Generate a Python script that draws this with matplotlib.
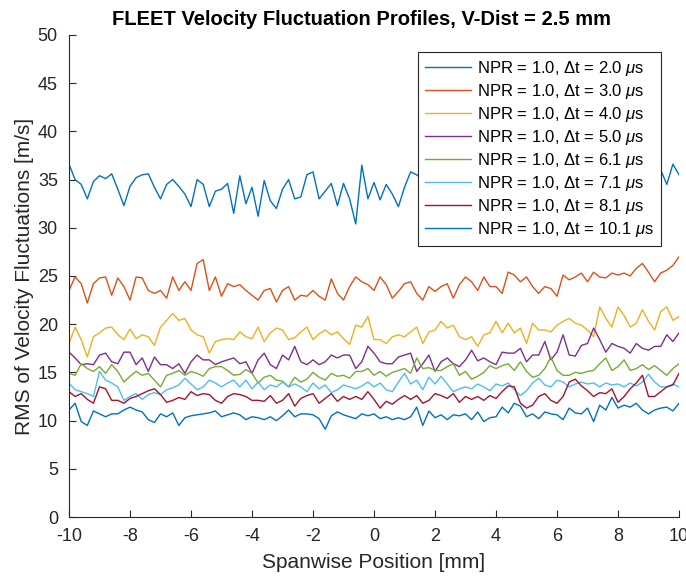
import numpy as np
import matplotlib
matplotlib.use('Agg')
import matplotlib.pyplot as plt

plt.rcParams['font.family'] = ['Liberation Sans', 'DejaVu Sans']
plt.rcParams['mathtext.fontset'] = 'custom'
plt.rcParams['mathtext.rm'] = 'Liberation Sans'
plt.rcParams['mathtext.it'] = 'Liberation Sans:italic'
plt.rcParams['axes.unicode_minus'] = False

# spanwise position [mm]
pos = np.linspace(-10, 10, 101)

dt_labels = ['2.0', '3.0', '4.0', '5.0', '6.1', '7.1', '8.1', '10.1']

rms_2_0 = [36.6, 35.0, 34.5, 33.0, 34.8, 35.4, 35.1, 35.6, 34.0, 32.3,
           34.3, 35.2, 35.5, 35.6, 34.2, 33.0, 34.5, 35.0, 34.3, 33.5,
           32.2, 35.0, 34.5, 32.2, 33.8, 34.0, 34.6, 31.5, 35.4, 32.5,
           34.2, 31.2, 34.9, 32.8, 32.0, 34.0, 35.0, 33.0, 33.2, 35.5,
           35.8, 33.0, 33.8, 34.6, 32.3, 34.6, 33.0, 30.4, 36.5, 33.0,
           34.7, 32.9, 34.5, 33.5, 32.2, 34.2, 35.8, 35.5, 35.0, 34.2,
           35.5, 34.0, 35.2, 36.0, 34.5, 35.3, 33.8, 35.0, 36.2, 34.6,
           35.4, 34.0, 35.8, 34.8, 35.5, 36.3, 34.9, 35.6, 34.3, 35.9,
           35.0, 36.1, 34.7, 35.4, 36.0, 34.8, 35.7, 35.1, 36.4, 34.9,
           35.6, 36.2, 35.0, 35.8, 34.6, 35.9, 35.2, 36.0, 34.5, 36.6, 35.5]

rms_3_0 = [23.5, 24.9, 24.2, 22.2, 24.2, 24.8, 24.9, 23.0, 24.8, 23.9,
           22.5, 24.9, 24.8, 23.5, 23.2, 23.5, 22.7, 24.9, 23.5, 24.4,
           23.5, 26.3, 26.7, 23.5, 24.9, 22.9, 24.2, 23.9, 24.1, 23.5,
           23.0, 22.5, 23.5, 23.7, 22.3, 23.5, 23.9, 22.5, 23.0, 22.9,
           23.5, 22.9, 22.5, 24.7, 23.2, 22.5, 23.9, 24.9, 24.4, 24.1,
           23.5, 24.9, 24.1, 22.7, 23.4, 24.2, 24.4, 23.2, 22.5, 23.9,
           23.4, 23.9, 24.2, 22.7, 24.1, 24.9, 24.4, 23.5, 24.9, 23.9,
           23.9, 23.2, 25.4, 25.1, 24.4, 24.9, 23.9, 23.2, 23.9, 23.7,
           22.9, 25.1, 24.6, 24.9, 25.3, 24.4, 25.4, 24.9, 24.8, 25.3,
           25.1, 25.3, 25.0, 25.8, 26.3, 25.4, 24.4, 25.3, 25.6, 26.1, 27.0]

rms_4_0 = [18.0, 19.7, 18.4, 16.6, 18.7, 19.1, 19.6, 19.7, 18.9, 18.4,
           19.5, 18.5, 18.9, 18.7, 17.8, 19.7, 20.4, 21.1, 20.4, 20.6,
           19.4, 18.9, 18.7, 17.0, 18.2, 18.4, 18.5, 18.4, 19.2, 18.7,
           18.5, 19.7, 18.2, 19.1, 19.6, 19.4, 18.4, 18.6, 19.2, 19.7,
           18.4, 19.0, 19.4, 18.9, 19.2, 18.5, 17.9, 19.9, 19.7, 20.8,
           18.4, 18.4, 18.0, 18.7, 18.9, 18.7, 19.2, 19.7, 18.0, 19.2,
           19.4, 20.3, 19.6, 19.9, 18.7, 18.4, 18.7, 17.7, 18.9, 19.1,
           20.3, 19.1, 20.1, 19.1, 19.6, 18.0, 20.1, 19.4, 19.4, 19.2,
           19.9, 20.3, 20.6, 20.1, 19.9, 19.4, 18.7, 21.8, 20.6, 19.7,
           21.8, 20.9, 19.7, 20.1, 21.5, 20.3, 19.4, 21.3, 21.8, 20.4, 20.8]

rms_5_0 = [17.1, 16.5, 15.8, 15.9, 15.8, 16.8, 17.0, 16.1, 15.9, 17.1,
           17.1, 15.8, 16.5, 15.1, 16.6, 15.8, 15.8, 15.4, 15.9, 14.9,
           16.1, 16.8, 16.3, 16.3, 15.8, 16.1, 16.3, 16.5, 15.9, 16.1,
           14.9, 16.3, 17.0, 15.8, 15.4, 16.8, 16.3, 17.7, 16.1, 15.8,
           16.3, 15.8, 16.1, 16.8, 16.5, 16.8, 16.8, 15.4, 16.1, 17.7,
           17.0, 16.1, 15.9, 15.9, 16.6, 16.8, 17.0, 15.1, 15.9, 16.8,
           15.1, 16.1, 16.5, 15.9, 15.6, 16.3, 17.3, 16.2, 16.5, 16.1,
           15.8, 17.1, 17.0, 17.0, 17.5, 16.1, 16.8, 16.8, 18.2, 16.3,
           17.1, 18.9, 16.8, 16.7, 17.8, 18.0, 19.6, 18.4, 17.1, 18.0,
           17.7, 17.5, 17.0, 18.0, 17.5, 17.3, 17.7, 17.7, 18.9, 18.2, 19.1]

rms_6_1 = [14.9, 14.7, 15.9, 15.4, 15.1, 15.6, 14.9, 15.8, 15.1, 14.0,
           14.6, 15.1, 14.7, 14.9, 14.2, 13.5, 14.7, 14.9, 15.2, 14.7,
           15.1, 14.9, 14.6, 15.4, 15.6, 15.6, 15.2, 14.7, 14.8, 15.3,
           14.9, 13.9, 14.5, 14.7, 14.2, 14.1, 13.5, 14.5, 14.0, 14.3,
           15.0, 14.5, 14.2, 14.9, 14.6, 14.7, 14.4, 15.1, 15.1, 15.4,
           14.7, 15.1, 14.6, 15.0, 15.2, 15.4, 14.9, 16.5, 15.4, 15.5,
           15.2, 15.2, 15.6, 15.9, 14.7, 15.1, 14.3, 14.6, 15.0, 15.7,
           15.4, 15.7, 15.9, 15.2, 16.1, 15.1, 14.5, 14.7, 15.4, 16.6,
           15.2, 14.7, 14.7, 15.0, 14.9, 15.1, 15.2, 15.9, 16.5, 15.2,
           15.6, 16.3, 15.2, 15.4, 15.8, 15.3, 15.7, 15.2, 14.7, 15.4, 15.9]

rms_7_1 = [13.9, 13.2, 13.0, 12.8, 12.5, 15.1, 14.2, 13.9, 13.5, 12.1,
           12.5, 12.8, 12.2, 12.7, 12.9, 12.7, 13.2, 13.4, 13.7, 14.4,
           13.8, 13.2, 13.5, 14.2, 13.9, 13.5, 13.9, 14.2, 13.5, 14.2,
           13.3, 14.0, 13.2, 13.7, 13.5, 14.0, 13.5, 13.8, 13.5, 13.0,
           13.9, 13.3, 13.7, 12.9, 13.2, 13.7, 13.5, 13.3, 13.6, 14.0,
           13.5, 13.9, 13.2, 13.0, 14.0, 14.9, 13.8, 14.2, 13.2, 14.5,
           13.8, 14.6, 13.8, 13.0, 13.3, 13.5, 13.3, 13.8, 13.5, 13.1,
           13.8, 13.6, 13.9, 13.2, 12.6, 13.1, 13.9, 14.4, 13.7, 13.5,
           14.2, 14.0, 13.5, 13.8, 14.0, 13.8, 13.9, 13.5, 13.9, 13.7,
           13.8, 13.5, 13.9, 13.6, 14.0, 14.8, 14.0, 13.5, 13.5, 13.8, 13.5]

rms_8_1 = [13.0, 12.5, 12.8, 12.2, 11.8, 13.5, 13.3, 12.1, 12.1, 11.8,
           12.3, 12.5, 12.8, 13.1, 13.3, 12.7, 11.9, 12.1, 12.4, 12.2,
           13.0, 12.6, 12.8, 12.7, 12.1, 11.8, 12.5, 12.8, 12.7, 12.5,
           12.1, 12.1, 12.0, 12.6, 11.8, 12.1, 12.8, 11.5, 12.3, 12.6,
           12.8, 11.8, 12.3, 12.8, 12.0, 12.5, 12.2, 12.5, 12.2, 13.0,
           12.2, 11.3, 12.0, 11.7, 12.2, 12.6, 12.2, 12.6, 11.8, 12.1,
           12.8, 12.6, 12.3, 12.8, 11.9, 12.5, 12.2, 12.5, 12.1, 12.6,
           12.3, 13.0, 13.6, 13.5, 11.8, 11.3, 11.6, 12.5, 12.8, 12.1,
           11.8, 12.5, 14.0, 14.3, 13.6, 13.1, 12.5, 12.9, 12.8, 13.3,
           11.9, 12.5, 13.3, 13.9, 14.7, 12.5, 12.5, 13.0, 13.5, 13.7, 14.9]

rms_10_1 = [11.1, 11.8, 9.9, 9.5, 11.0, 10.7, 10.4, 10.7, 10.7, 11.1,
            11.4, 11.1, 10.9, 10.1, 9.8, 10.7, 10.4, 10.8, 9.5, 10.3,
            10.5, 10.6, 10.7, 10.8, 11.0, 10.4, 10.6, 10.8, 10.6, 10.1,
            10.4, 10.3, 10.1, 10.4, 10.0, 10.5, 11.1, 10.4, 10.7, 10.7,
            10.6, 10.2, 9.1, 10.5, 10.9, 10.6, 10.4, 10.2, 10.7, 10.5,
            10.7, 10.2, 10.4, 10.1, 10.3, 10.1, 10.4, 11.4, 9.5, 11.0,
            10.3, 10.6, 10.1, 10.6, 10.5, 10.7, 10.1, 10.9, 9.9, 10.3,
            10.4, 11.4, 10.8, 11.8, 11.5, 10.4, 10.7, 10.2, 10.9, 10.7,
            10.6, 10.1, 11.3, 10.8, 10.7, 11.3, 9.9, 11.6, 11.1, 12.4,
            11.3, 11.6, 11.4, 11.8, 11.1, 10.7, 11.1, 11.3, 11.4, 11.0, 11.8]

series = [rms_2_0, rms_3_0, rms_4_0, rms_5_0, rms_6_1, rms_7_1, rms_8_1, rms_10_1]

# matlab default line order
colors = ['#0072BD', '#D95319', '#EDB120', '#7E2F8E',
          '#77AC30', '#4DBEEE', '#A2142F', '#0072BD']

fig = plt.figure(figsize=(6.86, 5.78), dpi=100)
ax = fig.add_axes([0.1006, 0.1055, 0.8892, 0.834])

for vals, c, dt in zip(series, colors, dt_labels):
    ax.plot(pos, vals, color=c, linewidth=1.0,
            label=r'NPR = 1.0, $\Delta$t = ' + dt + r' $\mu$s')

ax.set_xlim(-10, 10)
ax.set_ylim(0, 50)
ax.set_xticks(np.arange(-10, 11, 2))
ax.set_yticks(np.arange(0, 51, 5))

axcol = '#262626'
for side in ['top', 'right']:
    ax.spines[side].set_visible(False)
for side in ['left', 'bottom']:
    ax.spines[side].set_color(axcol)
    ax.spines[side].set_linewidth(0.8)
ax.tick_params(direction='in', length=5, width=0.8, color=axcol,
               labelcolor=axcol, labelsize=13)
ax.tick_params(axis='x', pad=8)
ax.tick_params(axis='y', pad=8)

ax.set_xlabel('Spanwise Position [mm]', fontsize=15, color=axcol, labelpad=6)
ax.set_ylabel('RMS of Velocity Fluctuations [m/s]', fontsize=15, color=axcol, labelpad=3)
ax.set_title('FLEET Velocity Fluctuation Profiles, V-Dist = 2.5 mm',
             fontsize=14.5, fontweight='bold', pad=7, x=0.48)

leg = ax.legend(loc='upper right', bbox_to_anchor=(0.970, 0.964), borderaxespad=0,
                fontsize=12, frameon=True, fancybox=False, framealpha=1,
                handlelength=2.8, handletextpad=0.35, borderpad=0.4,
                labelspacing=0.24)
leg.get_frame().set_edgecolor(axcol)
leg.get_frame().set_linewidth(0.8)

plt.savefig('out.png', dpi=100)
